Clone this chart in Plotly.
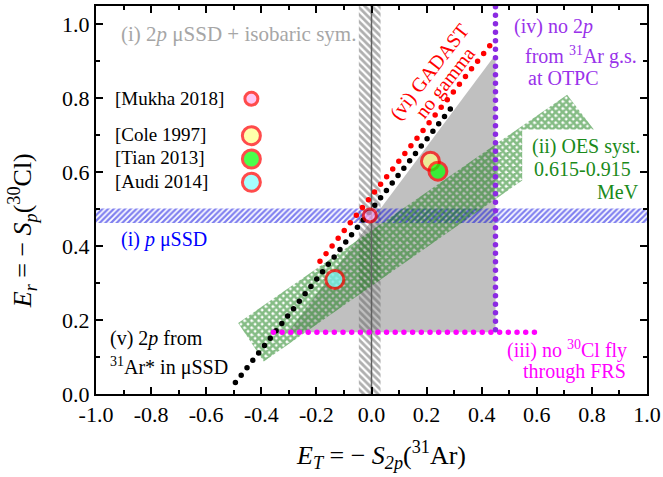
import plotly.graph_objects as go

# ---------------- data ----------------
# experimental points (E_T, E_r)
pt_names = ["Mukha 2018", "Cole 1997", "Tian 2013", "Audi 2014"]
pt_x = [-0.006, 0.214, 0.241, -0.133]
pt_y = [0.483, 0.630, 0.603, 0.310]
pt_fill = ["#ffb0f0", "#ffff88", "#00ff00", "#80ffff"]
pt_size = [13, 18, 18, 18]

# allowed region (grey)
grey_x = [-0.302, 0.45, 0.45]
grey_y = [0.167, 0.167, 0.919]

# (ii) OES systematics band (green cross-hatch)
oes_x = [-0.484, -0.391, 0.547, 0.547, 0.807, 0.710]
oes_y = [0.192, 0.088, 0.578, 0.716, 0.716, 0.810]

# (i) p muSSD band (blue hatch)
pssd_x = [-1.0, 1.0, 1.0, -1.0]
pssd_y = [0.463, 0.463, 0.502, 0.502]

# (i) 2p muSSD + isobaric symmetry band (grey hatch)
iso_x = [-0.046, 0.033, 0.033, -0.046]
iso_y = [0.0, 0.0, 1.05, 1.05]
iso_line_x = [0.0, 0.0]
iso_line_y = [0.0, 1.05]

# dotted limits
v_x = [-0.494, 0.305]      # (v) black
v_y = [0.031, 0.789]
vi_x = [-0.187, 0.436]     # (vi) red
vi_y = [0.359, 0.949]
iii_x = [-0.356, 0.606]    # (iii) magenta
iii_y = [0.167, 0.167]
iv_x = [0.45, 0.45]        # (iv) purple
iv_y = [0.174, 1.05]

# axis ticks
x_ticks = [-1.0, -0.8, -0.6, -0.4, -0.2, 0.0, 0.2, 0.4, 0.6, 0.8, 1.0]
y_ticks = [0.0, 0.2, 0.4, 0.6, 0.8, 1.0]

# ---------------- figure ----------------
FONT = "Liberation Serif"
fig = go.Figure()

def band(x, y, fg, shape, size, solid):
    fig.add_trace(go.Scatter(
        x=x, y=y, mode="lines", fill="toself",
        fillcolor="rgba(0,0,0,0)",
        fillpattern=dict(shape=shape, fgcolor=fg, bgcolor="rgba(0,0,0,0)",
                         size=size, solidity=solid),
        line=dict(width=0), hoverinfo="skip", showlegend=False))

# grey allowed triangle
fig.add_trace(go.Scatter(x=grey_x, y=grey_y, mode="lines", fill="toself",
                         fillcolor="#c0c0c0", line=dict(width=0),
                         hoverinfo="skip", showlegend=False))
# hatched bands
band(iso_x, iso_y, "#606060", "\\", 5, 0.55)
band(pssd_x, pssd_y, "#0000e0", "/", 4, 0.55)
band(oes_x, oes_y, "#0c7a0c", "x", 5, 0.78)

fig.add_trace(go.Scatter(x=iso_line_x, y=iso_line_y, mode="lines",
                         line=dict(color="#606060", width=1.5),
                         hoverinfo="skip", showlegend=False))

def dotted(x, y, color, gap):
    fig.add_trace(go.Scatter(x=x, y=y, mode="lines",
                             line=dict(color=color, width=5.5, dash=f"0px,{gap}px"),
                             hoverinfo="skip", showlegend=False))

dotted(v_x, v_y, "#000000", 9.4)
dotted(vi_x, vi_y, "#ff0000", 9.8)
dotted(iii_x, iii_y, "#ff00ff", 8.7)
dotted(iv_x, iv_y, "#8b2be2", 8.5)

# experimental points
fig.add_trace(go.Scatter(
    x=pt_x, y=pt_y, mode="markers",
    marker=dict(color=pt_fill, size=pt_size, line=dict(color="#ff0000", width=3)),
    text=pt_names, hoverinfo="text", showlegend=False))

# manual legend (text left, symbol right)
leg_mx = -0.436
leg_my = [0.799, 0.699, 0.636, 0.573]
leg_ty = [0.799, 0.702, 0.641, 0.576]
fig.add_trace(go.Scatter(
    x=[leg_mx] * len(pt_names), y=leg_my, mode="markers",
    marker=dict(color=pt_fill, size=pt_size, line=dict(color="#ff0000", width=3)),
    hoverinfo="skip", showlegend=False))

annotations = []
for name, ty in zip(pt_names, leg_ty):
    annotations.append(dict(x=-0.937, y=ty, text=f"[{name}]", xanchor="left",
                            yanchor="middle", font=dict(size=19, color="black")))

def txt(x, y, s, color, xanchor="left", size=20, angle=0):
    annotations.append(dict(x=x, y=y, text=s, xanchor=xanchor, yanchor="middle",
                            textangle=angle, font=dict(size=size, color=color)))

txt(-0.918, 0.973, "(i) 2<i>p</i> μSSD + isobaric sym.", "#a6a6a6", size=21)
txt(-0.918, 0.417, "(i) <i>p</i> μSSD", "#0000ff")
txt(0.212, 0.872, "(vi) GADAST", "#ff0000", xanchor="center", angle=-52)
txt(0.268, 0.843, "no gamma", "#ff0000", xanchor="center", angle=-52)
txt(0.511, 0.995, "(iv) no 2<i>p</i>", "#9932ea")
txt(0.551, 0.917, "from <sup>31</sup>Ar g.s.", "#9932ea")
txt(0.559, 0.855, "at OTPC", "#9932ea")
txt(0.577, 0.671, "(ii) OES syst.", "#1a8a1a")
txt(0.584, 0.608, "0.615-0.915", "#1a8a1a")
txt(0.813, 0.546, "MeV", "#1a8a1a")
txt(0.936, 0.120, "(iii) no <sup>30</sup>Cl fly", "#ff00ff", xanchor="right")
txt(0.932, 0.061, "through FRS", "#ff00ff", xanchor="right")
txt(-0.956, 0.150, "(v) 2<i>p</i> from", "#000000")
txt(-0.956, 0.075, "<sup>31</sup>Ar* in μSSD", "#000000")

for a in annotations:
    a["showarrow"] = False
    a["xref"] = "x"
    a["yref"] = "y"
    a["font"]["family"] = FONT

# axis titles (placed as in the reference)
annotations.append(dict(
    text="<i>E<sub>T</sub></i> = − <i>S<sub>2p</sub></i>(<sup>31</sup>Ar)",
    xref="paper", yref="paper", x=0.517, y=-0.157, xanchor="center", yanchor="middle",
    showarrow=False, font=dict(family=FONT, size=26, color="black")))
annotations.append(dict(
    text="<i>E<sub>r</sub></i> = − <i>S<sub>p</sub></i>(<sup>30</sup>Cl)",
    xref="paper", yref="paper", x=-0.134, y=0.42, xanchor="center", yanchor="middle",
    textangle=-90, showarrow=False, font=dict(family=FONT, size=26, color="black")))

axis_common = dict(
    showline=True, linewidth=2, linecolor="black", mirror="ticks",
    ticks="inside", ticklen=7, tickwidth=1.5, tickcolor="black",
    showgrid=False, zeroline=False, automargin=False,
    tickfont=dict(family=FONT, size=22, color="black"),
    minor=dict(ticks="inside", ticklen=4, tickwidth=1.5, tickcolor="black", showgrid=False),
)

fig.update_layout(
    width=663, height=477,
    margin=dict(l=96, r=16, t=6, b=83),
    paper_bgcolor="white", plot_bgcolor="white",
    font=dict(family=FONT, color="black"),
    showlegend=False,
    annotations=annotations,
    xaxis=dict(range=[-1.0, 1.0], tickvals=x_ticks, ticktext=[f"{v:.1f}" for v in x_ticks],
               minor_dtick=0.1, **axis_common),
    yaxis=dict(range=[0.0, 1.05], tickvals=y_ticks, ticktext=[f"{v:.1f}" for v in y_ticks],
               minor_dtick=0.1, **axis_common),
)

post = ("var s=document.createElement('style');"
        "s.textContent='html,body{margin:0;padding:0;overflow:hidden;}"
        ".js-line{stroke-linecap:round !important;}';"
        "document.head.appendChild(s);")
fig.write_html("out.html", config={"displayModeBar": False}, post_script=post)
